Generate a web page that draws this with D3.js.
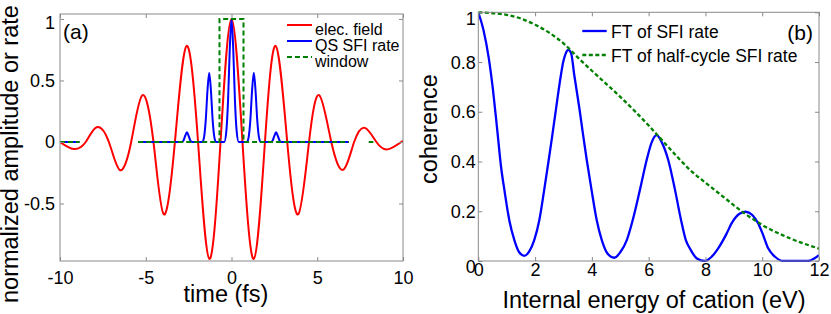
<!DOCTYPE html>
<html>
<head>
<meta charset="utf-8">
<script src="https://d3js.org/d3.v7.min.js"></script>
<style>
  body { margin: 0; background: #fff; }
  text { font-family: "Liberation Sans", Arial, sans-serif; fill: #000; }
</style>
</head>
<body>
<div id="viz"></div>
<script>
// ---- panel (a) data, time in fs ----
var fieldTime  = [-10, -9.2, -8.5, -7.86, -7.15, -6.51, -5.85, -5.2, -4.55, -3.95, -3.3, -2.62, -1.95, -1.29, -0.64, 0,
                  0.64, 1.3, 1.95, 2.58, 3.25, 3.89, 4.52, 5.12, 5.82, 6.52, 7.15, 7.78, 8.45, 9.1, 10];
var fieldValue = [0, -0.057, 0, 0.12, 0, -0.228, 0, 0.38, 0, -0.588, 0, 0.78, 0, -0.95, 0, 1,
                  0, -0.95, 0, 0.78, 0, -0.588, 0, 0.38, 0, -0.225, 0, 0.115, 0, -0.06, 0.01];

// QS SFI rate (null = gap in the drawn line)
var rateTime  = [-10, -8.86, null, -5.44, -2.9, -2.8, -2.7, -2.6, -2.5, -2.4, -2.3,
                 -1.7, -1.6, -1.5, -1.4, -1.3, -1.2, -1.1, -1.0, -0.9,
                 -0.42, -0.3, -0.2, -0.1, 0, 0.1, 0.2, 0.3, 0.42,
                 0.9, 1.0, 1.1, 1.2, 1.3, 1.4, 1.5, 1.6, 1.7,
                 2.3, 2.4, 2.5, 2.6, 2.7, 2.8, 2.9, 6.84];
var rateValue = [0, 0, null, 0, 0, 0.012, 0.05, 0.079, 0.05, 0.012, 0,
                 0, 0.04, 0.18, 0.42, 0.563, 0.42, 0.18, 0.04, 0,
                 0, 0.09, 0.34, 0.76, 1, 0.76, 0.34, 0.09, 0,
                 0, 0.04, 0.18, 0.42, 0.563, 0.42, 0.18, 0.04, 0,
                 0, 0.012, 0.05, 0.079, 0.05, 0.012, 0, 0];

var windowTime  = [-10, -8.86, null, -5.44, -0.7, -0.7, 0.7, 0.7, 6.84, null, 8.0, 8.27];
var windowValue = [0, 0, null, 0, 0, 1, 1, 0, 0, null, 0, 0];

var legendA = ["elec. field", "QS SFI rate", "window"];

// ---- panel (b) data, energy in eV ----
var energyFT = [0, 0.18, 0.37, 0.51, 0.62, 0.7, 0.8, 0.92, 1.09, 1.27, 1.44, 1.62, 1.8, 1.97, 2.15, 2.32, 2.48, 2.6,
                2.74, 2.91, 2.99, 3.08, 3.17, 3.27, 3.38, 3.56, 3.7, 3.82, 3.99, 4.17, 4.35, 4.55, 4.79, 5.0,
                5.23, 5.44, 5.69, 5.93, 6.1, 6.28, 6.45, 6.69, 6.93, 7.14, 7.31, 7.45, 7.7, 7.98, 8.2, 8.45,
                8.75, 8.92, 9.2, 9.42, 9.65, 9.86, 10.01, 10.21, 10.45, 10.74, 11.62, 11.86, 12];
var ftRate   = [1, 0.93, 0.815, 0.695, 0.58, 0.49, 0.38, 0.285, 0.165, 0.084, 0.035, 0.021, 0.04, 0.084, 0.165, 0.285, 0.406, 0.5,
                0.614, 0.748, 0.8, 0.835, 0.849, 0.835, 0.748, 0.614, 0.5, 0.406, 0.285, 0.165, 0.084, 0.03, 0.013, 0.035,
                0.084, 0.165, 0.285, 0.406, 0.475, 0.506, 0.48, 0.406, 0.285, 0.165, 0.084, 0.051, 0.01, 0, 0.015, 0.051,
                0.111, 0.151, 0.19, 0.198, 0.185, 0.151, 0.111, 0.051, 0.017, 0, 0, 0.012, 0.024];

var energyHalf = [0, 1, 2, 3, 3.58, 4, 5, 6, 6.28, 7, 7.45, 8, 8.63, 9.42, 10, 11, 12];
var ftHalf     = [1, 0.99, 0.95, 0.875, 0.81, 0.765, 0.66, 0.545, 0.51, 0.42, 0.367, 0.315, 0.258, 0.188, 0.145, 0.09, 0.05];

var legendB = ["FT of SFI rate", "FT of half-cycle SFI rate"];

// ticks
var aXTicks = [-10, -5, 0, 5, 10], aXLabels = ["-10", "-5", "0", "5", "10"];
var aYTicks = [-0.5, 0, 0.5, 1],   aYLabels = ["-0.5", "0", "0.5", "1"];
var bXTicks = [0, 2, 4, 6, 8, 10, 12], bXLabels = ["0", "2", "4", "6", "8", "10", "12"];
var bYTicks = [0, 0.2, 0.4, 0.6, 0.8, 1], bYLabels = ["0", "0.2", "0.4", "0.6", "0.8", "1"];

var W = 831, H = 314;
var axisGray = "#8a8a8a";

var svg = d3.select("#viz").append("svg")
  .attr("width", W).attr("height", H)
  .style("display", "block");
svg.append("rect").attr("width", W).attr("height", H).attr("fill", "#fff");

function zip(xs, ys) {
  return xs.map(function (x, i) { return { x: x, y: ys[i] }; });
}

// draw a framed box with inward ticks, MATLAB style
function frame(g, x, y, xt, xl, yt, yl, xPad, yPad, yShift) {
  var x0 = x.range()[0], x1 = x.range()[1], y0 = y.range()[0], y1 = y.range()[1];

  var bottom = g.append("g").attr("transform", "translate(0," + y0 + ")")
    .call(d3.axisBottom(x).tickValues(xt).tickSizeInner(-4).tickSizeOuter(0).tickPadding(xPad)
      .tickFormat(function (d, i) { return xl[i]; }));
  var top = g.append("g").attr("transform", "translate(0," + y1 + ")")
    .call(d3.axisTop(x).tickValues(xt).tickSizeInner(-4).tickSizeOuter(0).tickFormat(""));
  var left = g.append("g").attr("transform", "translate(" + x0 + ",0)")
    .call(d3.axisLeft(y).tickValues(yt).tickSizeInner(-4).tickSizeOuter(0).tickPadding(yPad)
      .tickFormat(function (d, i) { return yl[i]; }));
  var right = g.append("g").attr("transform", "translate(" + x1 + ",0)")
    .call(d3.axisRight(y).tickValues(yt).tickSizeInner(-4).tickSizeOuter(0).tickFormat(""));

  [bottom, top, left, right].forEach(function (a) {
    a.select(".domain").remove();
    a.selectAll("line").attr("stroke", axisGray);
    a.selectAll("text").style("font-size", "18px").attr("fill", "#000");
  });
  left.selectAll("text").attr("dy", function (d) { return (yShift[d] || 0) + 6 + "px"; });

  g.append("rect")
    .attr("x", x0).attr("y", y1)
    .attr("width", x1 - x0).attr("height", y0 - y1)
    .attr("fill", "none").attr("stroke", axisGray).attr("stroke-width", 1);
}

// ================= panel (a) =================
var xa = d3.scaleLinear().domain([-10, 10]).range([60, 403]);
var ya = d3.scaleLinear().domain([-0.967, 1.04]).range([261, 14]);
var ga = svg.append("g");

var clipA = svg.append("clipPath").attr("id", "clipA").append("rect")
  .attr("x", 60).attr("y", 14).attr("width", 343).attr("height", 247);

var plotA = ga.append("g").attr("clip-path", "url(#clipA)");

var fieldLine = d3.line().x(function (d) { return xa(d.x); }).y(function (d) { return ya(d.y); })
  .curve(d3.curveNatural);
var rateLine = d3.line().defined(function (d) { return d.y !== null; })
  .x(function (d) { return xa(d.x); }).y(function (d) { return ya(d.y); })
  .curve(d3.curveMonotoneX);
var winLine = d3.line().defined(function (d) { return d.y !== null; })
  .x(function (d) { return xa(d.x); }).y(function (d) { return ya(d.y); });

plotA.append("path").datum(zip(fieldTime, fieldValue))
  .attr("d", fieldLine).attr("fill", "none").attr("stroke", "#ff0000").attr("stroke-width", 2);
plotA.append("path").datum(zip(rateTime, rateValue))
  .attr("d", rateLine).attr("fill", "none").attr("stroke", "#0000ff").attr("stroke-width", 2);
plotA.append("path").datum(zip(windowTime, windowValue))
  .attr("d", winLine).attr("fill", "none").attr("stroke", "#008000").attr("stroke-width", 2)
  .attr("stroke-dasharray", "5,3");

frame(ga, xa, ya, aXTicks, aXLabels, aYTicks, aYLabels, 10, 5, { 1: 4 });

ga.append("text").attr("x", 63).attr("y", 39).style("font-size", "21px").text("(a)");

// legend (a)
var legA = ga.append("g");
var colA = ["#ff0000", "#0000ff", "#008000"];
legendA.forEach(function (s, i) {
  var yy = 35 + i * 16;
  legA.append("line").attr("x1", 287).attr("x2", 312).attr("y1", yy - 10).attr("y2", yy - 10)
    .attr("stroke", colA[i]).attr("stroke-width", 2)
    .attr("stroke-dasharray", i === 2 ? "5,3" : null);
  legA.append("text").attr("x", 315).attr("y", yy).style("font-size", "16px").text(s);
});

ga.append("text").attr("x", 226).attr("y", 302).attr("text-anchor", "middle")
  .style("font-size", "23.5px").text("time (fs)");
ga.append("text").attr("transform", "translate(18,303) rotate(-90)")
  .style("font-size", "23.5px").text("normalized amplitude or rate");

// ================= panel (b) =================
var xb = d3.scaleLinear().domain([0, 12]).range([478.3, 819]);
var yb = d3.scaleLinear().domain([0, 1]).range([261, 12.3]);
var gb = svg.append("g");

svg.append("clipPath").attr("id", "clipB").append("rect")
  .attr("x", 478.3).attr("y", 10).attr("width", 340.7).attr("height", 252);
var plotB = gb.append("g").attr("clip-path", "url(#clipB)");

var lineB = d3.line().x(function (d) { return xb(d.x); }).y(function (d) { return yb(d.y); })
  .curve(d3.curveMonotoneX);

plotB.append("path").datum(zip(energyFT, ftRate))
  .attr("d", lineB).attr("fill", "none").attr("stroke", "#0000ff").attr("stroke-width", 2.3);
plotB.append("path").datum(zip(energyHalf, ftHalf))
  .attr("d", lineB).attr("fill", "none").attr("stroke", "#008000").attr("stroke-width", 2.3)
  .attr("stroke-dasharray", "4,2.5");

frame(gb, xb, yb, bXTicks, bXLabels, bYTicks, bYLabels, 2.5, 2.5, { 0: 5, 1: 6 });

gb.append("text").attr("x", 813).attr("y", 39.5).attr("text-anchor", "end")
  .style("font-size", "21px").text("(b)");

var colB = ["#0000ff", "#008000"];
legendB.forEach(function (s, i) {
  var ly = 31 + i * 24;
  gb.append("line").attr("x1", 582.3).attr("x2", 606.7).attr("y1", ly).attr("y2", ly)
    .attr("stroke", colB[i]).attr("stroke-width", 2.3)
    .attr("stroke-dasharray", i === 1 ? "4,2.5" : null);
  gb.append("text").attr("x", 611).attr("y", ly + 6.5).style("font-size", "17.5px").text(s);
});

gb.append("text").attr("x", 654).attr("y", 308).attr("text-anchor", "middle")
  .style("font-size", "23.5px").text("Internal energy of cation (eV)");
gb.append("text").attr("transform", "translate(437,129) rotate(-90)").attr("text-anchor", "middle")
  .style("font-size", "23.5px").text("coherence");
</script>
</body>
</html>
